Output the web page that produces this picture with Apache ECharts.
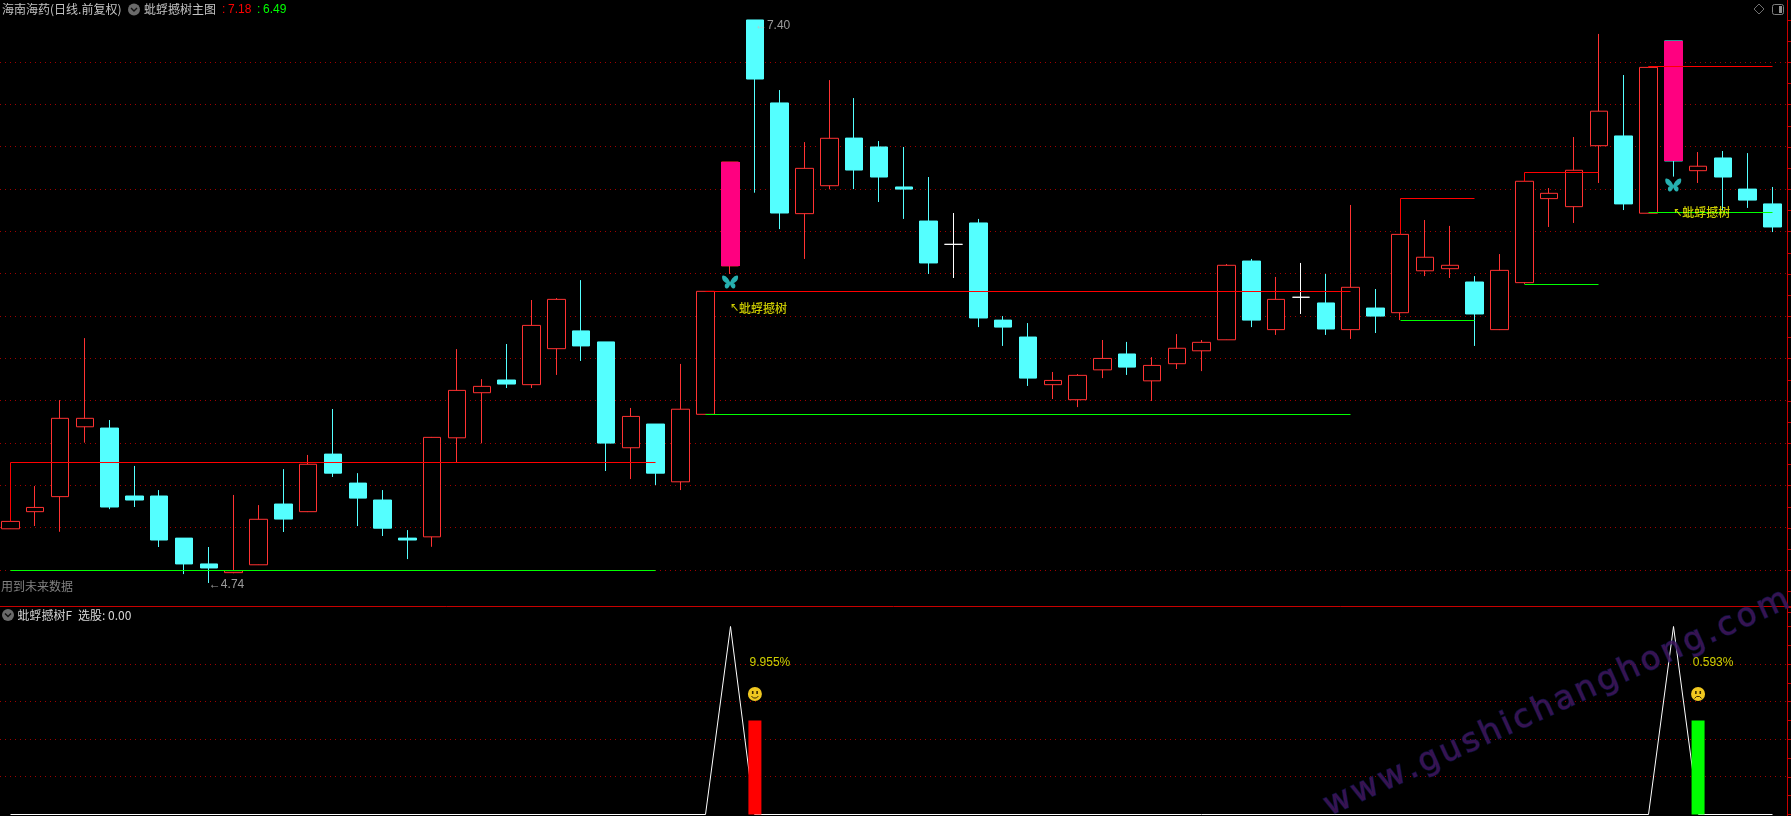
<!DOCTYPE html>
<html><head><meta charset="utf-8">
<style>html,body{margin:0;padding:0;background:#000}#c{width:1791px;height:816px}</style>
<script src="https://cdn.jsdelivr.net/npm/echarts@6/dist/echarts.min.js"></script>
</head><body><div id="c"></div>
<script>
const opens=[4.996,5.077,5.148,5.478,5.472,5.151,5.151,4.952,4.830,4.789,4.826,5.113,5.077,5.349,5.212,5.132,4.952,4.958,5.426,5.639,5.699,5.677,5.847,5.931,5.879,5.379,5.491,5.218,5.537,6.238,7.400,7.008,6.485,6.617,6.842,6.800,6.611,6.450,6.340,6.441,5.982,5.902,5.677,5.606,5.747,5.822,5.695,5.776,5.837,5.889,6.261,5.937,6.090,6.063,5.937,6.039,6.017,6.215,6.225,6.162,5.937,6.159,6.556,6.518,6.806,6.852,6.487,7.301,6.688,6.748,6.601,6.531];
const closes=[5.031,5.097,5.518,5.518,5.099,5.132,4.943,4.830,4.811,4.798,5.041,5.042,5.301,5.259,5.141,4.999,4.943,5.428,5.650,5.669,5.680,5.957,6.080,5.860,5.401,5.527,5.259,5.561,6.118,6.729,7.121,6.488,6.699,6.841,6.691,6.658,6.601,6.252,6.340,5.992,5.949,5.708,5.697,5.721,5.801,5.760,5.768,5.849,5.877,6.241,5.982,6.080,6.090,5.940,6.137,6.001,6.387,6.279,6.241,6.011,6.217,6.638,6.581,6.690,6.969,6.531,7.176,6.734,6.709,6.658,6.549,6.422];
const lows=[4.995,5.009,4.982,5.403,5.089,5.099,4.910,4.782,4.740,4.786,4.825,4.981,5.075,5.241,5.009,4.962,4.853,4.911,5.310,5.400,5.661,5.661,5.723,5.789,5.269,5.231,5.203,5.179,5.537,6.200,6.584,6.412,6.271,6.600,6.601,6.540,6.460,6.200,6.181,5.949,5.860,5.671,5.609,5.571,5.708,5.723,5.600,5.751,5.741,5.888,5.949,5.912,6.011,5.912,5.893,5.921,5.982,6.190,6.181,5.860,5.935,6.153,6.422,6.441,6.630,6.502,6.487,6.660,6.630,6.502,6.512,6.398];
const highs=[5.032,5.198,5.604,5.897,5.510,5.293,5.179,4.952,4.910,5.156,5.108,5.278,5.345,5.562,5.259,5.179,4.990,5.430,5.845,5.703,5.869,6.077,6.086,6.171,5.879,5.567,5.491,5.775,6.118,6.729,7.400,7.069,6.823,7.116,7.031,6.828,6.800,6.658,6.488,6.460,6.001,5.968,5.737,5.727,5.888,5.879,5.807,5.916,5.888,6.247,6.271,6.186,6.252,6.200,6.526,6.129,6.387,6.455,6.427,6.190,6.294,6.638,6.606,6.847,7.334,7.140,7.176,7.301,6.776,6.781,6.771,6.611];
const dojiIndex=[38,52];
const segStart=[0,28,56,61,66];
const segEnd=[26,54,59,64,71];
const pressure=[5.310,6.118,6.557,6.680,7.180];
const support=[4.800,5.537,5.981,6.151,6.490];
const pinkIndex=[29,67];
const pinkTop=[6.729,7.301];
const pinkBottom=[6.238,6.734];
const priceGrid=[7.2,7.0,6.8,6.6,6.4,6.2,6.0,5.8,5.6,5.4,5.2,5.0,4.8];
const lowerGrid=[0.8,0.6,0.4,0.2];
const signalLine=[0,0,0,0,0,0,0,0,0,0,0,0,0,0,0,0,0,0,0,0,0,0,0,0,0,0,0,0,0,1,0,0,0,0,0,0,0,0,0,0,0,0,0,0,0,0,0,0,0,0,0,0,0,0,0,0,0,0,0,0,0,0,0,0,0,0,0,1,0,0,0,0];
const riseBarIndex=30, riseBarValue=0.5;
const fallBarIndex=68, fallBarValue=0.5;
const tagIndex=[9,29,35,59,66];
const tagText=['财','榜','减','预','涨'];
const tagBg=['#0a3468','#7a3c08','#0e4a14','#c44c08','#7c0404'];
const tagColor=['#ffffff','#ffffff','#c8ffc8','#ffffff','#ffffff'];
const tagPrice=4.666;
const categories=opens.map((_,i)=>String(i));

const RED='#ff3232',CYAN='#54ffff',PINK='#ff0080',GRID='#a00000',AXIS='#c80000';
const CJK='"Noto Sans CJK SC"';
const candleData=opens.map((o,i)=>{
  const v=[o,closes[i],lows[i],highs[i]];
  if(dojiIndex.includes(i)) return {value:v,itemStyle:{color:'#fff',color0:'#fff',borderColor:'#fff',borderColor0:'#fff',borderColorDoji:'#fff'}};
  return {value:v};
});
const levelRows=segStart.map((s,i)=>[s,segEnd[i],pressure[i],support[i],closes[s]]);
function crisp(p){return [Math.round(p[0]-.5)+.5,Math.round(p[1]-.5)+.5];}
function dottedSeries(name,axis,levels){return {type:'custom',name:name,xAxisIndex:axis,yAxisIndex:axis,z:1,silent:true,clip:false,
  data:levels.map((v,i)=>[i,v]),encode:{y:1},
  renderItem:(p,api)=>{const y=Math.round(api.coord([0,api.value(1)])[1]-.5)+.5;
    return {type:'line',shape:{x1:0,y1:y,x2:1787,y2:y},style:{stroke:GRID,lineWidth:1,lineDash:[1,4]}};}};}
function noteRich(i,p){return {value:[i,p],label:{show:true,position:'right',distance:0,offset:[0,1],
  formatter:'{a|↖}{b|蚍蜉撼树}',rich:{a:{color:'#ffff00',fontSize:9,fontFamily:CJK,fontWeight:700},b:{color:'#ffff00',fontSize:12,fontFamily:CJK,fontWeight:500}}}};}
function labelRow(i,p,text,color){
  return {value:[i,p],label:{show:true,formatter:text,color:color,position:'right',distance:0,fontFamily:'"Liberation Sans",'+CJK,fontSize:12}};
}
const annots=[labelRow(30,7.372,'←7.40','#c0c0c0'),labelRow(8,4.733,'←4.74','#c0c0c0'),noteRich(29,6.044),noteRich(67,6.494)];
const tags=tagIndex.map((x,i)=>({value:[x,tagPrice],label:{show:true,position:'inside',formatter:tagText[i],color:tagColor[i],
  backgroundColor:tagBg[i],fontFamily:CJK,fontSize:12,lineHeight:13,padding:[0,0.5]}}));
const butterfly='path://M12 9 C9 3 3 -1 0 1 C-1 5 2 9 7 10 C3 11 3 16 6 17 C9 17.500 11 15 12 12 C13 15 15 17.500 18 17 C21 16 21 11 17 10 C22 9 25 5 24 1 C21 -1 15 3 12 9Z';
const butterflyData=[[29,6.162],[67,6.620]];
const faces=[{i:30,v:0.641,smile:true,text:'9.955',y:0.806},{i:68,v:0.641,smile:false,text:'0.593',y:0.806}];

function txt(text,x,y,fill,fam,size){return {type:'text',x:x,y:y,silent:true,z:50,style:{text:text,fill:fill,font:(size||12)+'px '+(fam||CJK),verticalAlign:'middle'}};}
function chevron(cx,cy){return {type:'group',x:cx,y:cy,silent:true,z:50,children:[
  {type:'circle',shape:{cx:0,cy:0,r:6},style:{fill:'#6a6a6a'}},
  {type:'polyline',shape:{points:[[-3,-1.5],[0,1.5],[3,-1.5]]},style:{stroke:'#111',lineWidth:1.4,fill:null}}]};}

const option={
  backgroundColor:'#000',animation:false,
  grid:[
    {left:-2.1,width:1787.04,top:-22.36,height:634.99,outerBoundsMode:'none',containLabel:false},
    {left:-2.1,width:1787.04,top:606,height:246.1,outerBoundsMode:'none',containLabel:false}
  ],
  xAxis:[
    {type:'category',gridIndex:0,data:categories,boundaryGap:true,show:false},
    {type:'category',gridIndex:1,data:categories,boundaryGap:true,show:false}
  ],
  yAxis:[
    {type:'value',gridIndex:0,min:4.6,max:7.6,interval:0.1,position:'right',offset:2,
      axisLine:{show:true,onZero:false,lineStyle:{color:AXIS}},axisTick:{show:true,length:4,lineStyle:{color:AXIS}},axisLabel:{show:false},splitLine:{show:false}},
    {type:'value',gridIndex:1,min:-0.2,max:1.109,interval:0.1,position:'right',offset:2,
      axisLine:{show:true,onZero:false,lineStyle:{color:AXIS}},axisTick:{show:true,length:4,lineStyle:{color:AXIS}},axisLabel:{show:false},splitLine:{show:false}}
  ],
  series:[
    dottedSeries('gridUpper',0,priceGrid),
    dottedSeries('gridLower',1,lowerGrid),
    {type:'candlestick',name:'K',xAxisIndex:0,yAxisIndex:0,barWidth:18,z:3,clip:false,data:candleData,
      itemStyle:{color:'#000',color0:CYAN,borderColor:RED,borderColor0:CYAN,borderColorDoji:RED,borderWidth:1}},
    {type:'custom',name:'pink',xAxisIndex:0,yAxisIndex:0,z:4,
      data:pinkIndex.map((x,i)=>[x,pinkTop[i],pinkBottom[i]]),encode:{x:0,y:[1,2]},
      renderItem:(p,api)=>{const a=api.coord([api.value(0),api.value(1)]),b=api.coord([api.value(0),api.value(2)]);
        return {type:'rect',shape:{x:Math.round(a[0]-9.5),y:Math.round(a[1]),width:19,height:Math.round(b[1]-a[1])},style:{fill:PINK}};}},
    {type:'custom',name:'levels',xAxisIndex:0,yAxisIndex:0,z:5,
      data:levelRows,encode:{x:[0,1],y:[2,3,4]},
      renderItem:(p,api)=>{
        const s=api.value(0),e=api.value(1),up=api.value(2),dn=api.value(3),base=api.value(4);
        return {type:'group',children:[
          {type:'polyline',shape:{points:[crisp(api.coord([s,base])),crisp(api.coord([s,up])),crisp(api.coord([e,up]))]},style:{stroke:'#ff0000',lineWidth:1,fill:null}},
          {type:'polyline',shape:{points:[crisp(api.coord([s,dn])),crisp(api.coord([e,dn]))]},style:{stroke:'#00ff00',lineWidth:1,fill:null}}
        ]};
      }},
    {type:'scatter',name:'butterfly',xAxisIndex:0,yAxisIndex:0,z:6,symbol:butterfly,symbolSize:[16,13],
      itemStyle:{color:'#2fdcdc'},data:butterflyData},
    {type:'scatter',name:'notes',xAxisIndex:0,yAxisIndex:0,z:7,symbolSize:0,clip:false,data:annots},
    {type:'scatter',name:'tags',xAxisIndex:0,yAxisIndex:0,z:7,symbolSize:1,itemStyle:{opacity:0},clip:false,data:tags},
    {type:'custom',name:'signal',xAxisIndex:1,yAxisIndex:1,z:3,clip:false,
      data:signalLine.map((v,i)=>[i,v]),encode:{x:0,y:1},
      renderItem:(p,api)=>{
        if(p.dataIndex!==0) return null;
        const last=signalLine.length-1;
        const pts=[];
        signalLine.forEach((v,i)=>{
          if(i===0||i===last||signalLine[i-1]!==v||signalLine[i+1]!==v) pts.push(crisp(api.coord([i,v])));
        });
        return {type:'polyline',shape:{points:pts},style:{stroke:'#fff',lineWidth:1,fill:null}};}},
    {type:'bar',name:'rise',xAxisIndex:1,yAxisIndex:1,z:4,barWidth:13,barGap:'-100%',itemStyle:{color:'#ff0000'},
      data:categories.map((_,i)=>i===riseBarIndex?riseBarValue:null)},
    {type:'bar',name:'fall',xAxisIndex:1,yAxisIndex:1,z:4,barWidth:13,barGap:'-100%',itemStyle:{color:'#00ff00'},
      data:categories.map((_,i)=>i===fallBarIndex?fallBarValue:null)},
    {type:'custom',name:'faces',xAxisIndex:1,yAxisIndex:1,z:6,data:faces.map(f=>[f.i,f.v,f.smile?1:0]),encode:{x:0,y:1},
      renderItem:(p,api)=>{const c=api.coord([api.value(0),api.value(1)]);const sm=api.value(2)===1;
        return {type:'group',x:c[0],y:c[1],children:[
          {type:'circle',shape:{cx:0,cy:0,r:7},style:{fill:'#f0c820'}},
          {type:'rect',shape:{x:-3,y:-3,width:1.6,height:3},style:{fill:'#3a2a00'}},
          {type:'rect',shape:{x:1.4,y:-3,width:1.6,height:3},style:{fill:'#3a2a00'}},
          {type:'polyline',shape:{points:sm?[[-3.5,2],[-1.5,4],[1.5,4],[3.5,2]]:[[-3.5,4.5],[-1.5,2.5],[1.5,2.5],[3.5,4.5]]},style:{stroke:'#3a2a00',lineWidth:1,fill:null}}
        ]};}},
    {type:'scatter',name:'pct',xAxisIndex:1,yAxisIndex:1,z:7,symbolSize:0,
      data:faces.map(f=>({value:[f.i,f.y],label:{show:true,position:'inside',formatter:f.text+'%',color:'#ffff00',fontFamily:'"Liberation Sans"',fontSize:12,offset:[15,0]}}))}
  ],
  graphic:{elements:[
    txt('海南海药(日线.前复权)',2,9.5,'#c4c4c4'),
    chevron(134,9.5),
    txt('蚍蜉撼树主图',144,9.5,'#c4c4c4'),
    txt(':',222,9.5,'#ff0000','"Liberation Sans"'),
    txt('7.18',228,9.5,'#ff0000','"Liberation Sans"'),
    txt(':',257,9.5,'#00ff00','"Liberation Sans"'),
    txt('6.49',263,9.5,'#00ff00','"Liberation Sans"'),
    txt('用到未来数据',1,586.5,'#808080'),
    chevron(8,615),
    txt('蚍蜉撼树F',17.5,615,'#d0d0d0'),
    txt('选股: 0.00',78,615,'#d8d8d8'),
    {type:'polygon',silent:true,z:50,shape:{points:[[1759,4],[1764,9],[1759,14],[1754,9]]},style:{fill:null,stroke:'#707070',lineWidth:1}},
    {type:'rect',silent:true,z:50,shape:{x:1772.5,y:4.5,width:11,height:10,r:2},style:{fill:null,stroke:'#808080',lineWidth:1}},
    {type:'rect',silent:true,z:50,shape:{x:1779,y:6,width:3,height:7},style:{fill:'#909090'}},
    {type:'line',silent:true,z:40,shape:{x1:0,y1:606.5,x2:1787,y2:606.5},style:{stroke:AXIS,lineWidth:1}},
    {type:'text',silent:true,z:60,x:1326,y:808,rotation:24.4*Math.PI/180,
      style:{text:'www.gushichanghong.com'.split('').join('\u200a'),font:'32.5px "DejaVu Sans"',fill:'rgba(66,22,92,0.85)',stroke:'rgba(26,26,100,0.65)',lineWidth:1.5,verticalAlign:'middle'}}
  ]}
};
const chart=echarts.init(document.getElementById('c'),null,{renderer:'canvas',width:1791,height:816});
chart.setOption(option);
</script></body></html>
